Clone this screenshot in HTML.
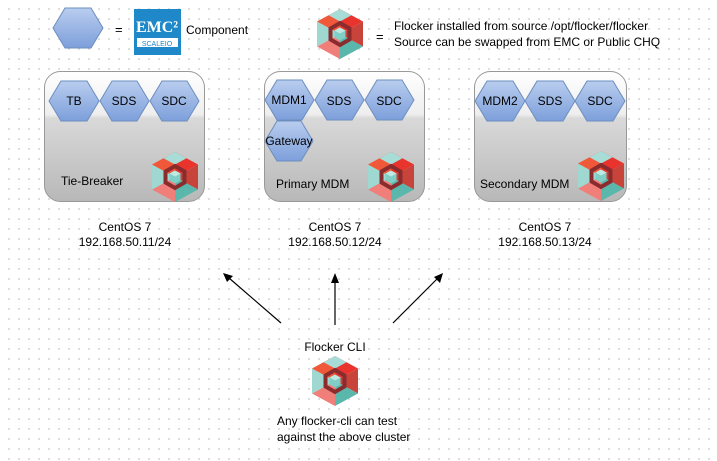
<!DOCTYPE html>
<html><head><meta charset="utf-8"><style>
body{margin:0;width:717px;height:461px;overflow:hidden;background:#fff;
background-image:radial-gradient(circle,#c8c8c8 0.7px,transparent 1px);background-size:10px 10px;background-position:4px 4px;
font-family:"Liberation Sans",sans-serif;}
svg{position:absolute;left:0;top:0}
</style></head><body>
<svg width="717" height="461" viewBox="0 0 717 461" font-family="Liberation Sans, sans-serif">
<defs>
<linearGradient id="hx" x1="0" y1="0" x2="0" y2="1"><stop offset="0" stop-color="#b9cdee"/><stop offset="1" stop-color="#7d9fdb"/></linearGradient>
<linearGradient id="bx" x1="0" y1="0" x2="0" y2="1"><stop offset="0" stop-color="#ffffff"/><stop offset="0.33" stop-color="#eeeeee"/><stop offset="0.36" stop-color="#d9d9d9"/><stop offset="1" stop-color="#b8b8b8"/></linearGradient>
<symbol id="fl" viewBox="0 0 46 50">
<polygon points="23,25 23,0 46,12.5" fill="#e8342c"/>
<polygon points="23,25 46,12.5 46,37.5" fill="#c8433a"/>
<polygon points="23,25 46,37.5 23,50" fill="#5ab7ac"/>
<polygon points="23,25 23,50 0,37.5" fill="#f07f7a"/>
<polygon points="23,25 0,37.5 0,12.5" fill="#9ed8d1"/>
<polygon points="23,25 0,12.5 23,0" fill="#f0583a"/>
<polygon points="23,0 34.5,6.25 23,12.5 11.5,6.25" fill="#a8dcd6"/>
<polygon points="23,14 32.5,19.5 32.5,30.5 23,36 13.5,30.5 13.5,19.5" fill="none" stroke="#8a2b2e" stroke-width="4"/>
<polygon points="23,18.5 28.5,21.5 28.5,28.5 23,31.5 17.5,28.5 17.5,21.5" fill="#7fcfc6"/>
<polygon points="23,18.5 28.5,21.5 23,24.5 17.5,21.5" fill="#bfe8e3"/>
</symbol>
</defs>
<!-- legend -->
<polygon points="53,28 65,8 91,8 103,28 91,48 65,48" fill="url(#hx)" stroke="#6c8ebf"/>
<text x="115" y="34" font-size="13">=</text>
<rect x="134" y="9" width="47" height="46" fill="#1e88c9"/>
<text x="157" y="32" font-size="16" font-family="Liberation Serif, serif" font-weight="bold" fill="#fff" text-anchor="middle">EMC²</text>
<rect x="137" y="38" width="41" height="9" fill="#fff"/>
<text x="157" y="46" font-size="7" fill="#1e88c9" text-anchor="middle">SCALEIO</text>
<text x="186" y="34" font-size="12">Component</text>
<use href="#fl" x="317" y="9" width="46" height="50"/>
<text x="376" y="41" font-size="13">=</text>
<text x="394" y="30" font-size="12">Flocker installed from source /opt/flocker/flocker</text>
<text x="394" y="46" font-size="12">Source can be swapped from EMC or Public CHQ</text>
<!-- boxes -->
<g stroke="#999" stroke-width="1">
<rect x="44.5" y="71.5" width="160" height="130" rx="16" fill="url(#bx)"/>
<rect x="264.5" y="71.5" width="160" height="130" rx="16" fill="url(#bx)"/>
<rect x="474.5" y="71.5" width="152" height="130" rx="16" fill="url(#bx)"/>
</g>
<g fill="url(#hx)" stroke="#6c8ebf">
<polygon points="49,101 61,81 87,81 99,101 87,121 61,121"/>
<polygon points="100,101 112,81 137,81 149,101 137,121 112,121"/>
<polygon points="150,101 162,81 187,81 199,101 187,121 162,121"/>
<polygon points="265,100 277,80 302,80 314,100 302,120 277,120"/>
<polygon points="315,100 327,80 352,80 364,100 352,120 327,120"/>
<polygon points="365,100 377,80 402,80 414,100 402,120 377,120"/>
<polygon points="265,141 277,121 301,121 313,141 301,161 277,161"/>
<polygon points="475,101 487,81 513,81 525,101 513,121 487,121"/>
<polygon points="525,101 537,81 563,81 575,101 563,121 537,121"/>
<polygon points="575,101 587,81 613,81 625,101 613,121 587,121"/>
</g>
<g font-size="12" text-anchor="middle">
<text x="74" y="105">TB</text><text x="124" y="105">SDS</text><text x="174" y="105">SDC</text>
<text x="289" y="104">MDM1</text><text x="339" y="105">SDS</text><text x="389" y="105">SDC</text>
<text x="289" y="145">Gateway</text>
<text x="500" y="105">MDM2</text><text x="550" y="105">SDS</text><text x="600" y="105">SDC</text>
</g>
<use href="#fl" x="152" y="152" width="46" height="50"/>
<use href="#fl" x="368" y="152" width="46" height="50"/>
<use href="#fl" x="578" y="151" width="46" height="50"/>
<g font-size="12">
<text x="61" y="185">Tie-Breaker</text>
<text x="276" y="188">Primary MDM</text>
<text x="480" y="188">Secondary MDM</text>
</g>
<g font-size="12" text-anchor="middle">
<text x="125" y="231">CentOS 7</text><text x="125" y="246">192.168.50.11/24</text>
<text x="335" y="231">CentOS 7</text><text x="335" y="246">192.168.50.12/24</text>
<text x="545" y="231">CentOS 7</text><text x="545" y="246">192.168.50.13/24</text>
<text x="335" y="351">Flocker CLI</text>
</g>
<g stroke="#000" stroke-width="1.2">
<line x1="281" y1="323" x2="229" y2="278"/>
<line x1="335" y1="325" x2="335" y2="280"/>
<line x1="393" y1="323" x2="438" y2="278"/>
</g>
<g fill="#000">
<polygon points="223,273 233,276 227,282"/>
<polygon points="335,273 331,283 339,283"/>
<polygon points="443,273 440,283 434,277"/>
</g>
<use href="#fl" x="312" y="356" width="46" height="50"/>
<g font-size="12">
<text x="277" y="425">Any flocker-cli can test</text>
<text x="277" y="441">against the above cluster</text>
</g>
</svg>
</body></html>
